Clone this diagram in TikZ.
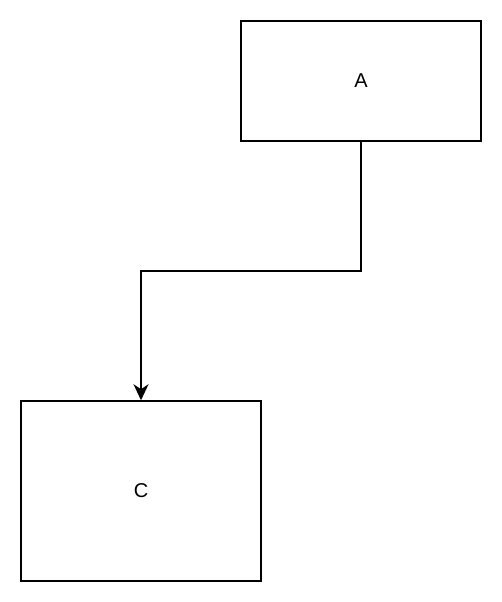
\documentclass[tikz,border=0pt]{standalone}
\usepackage{fontspec}
\setmainfont{Liberation Sans}
\usetikzlibrary{arrows.meta}
\newcommand{\lblfont}{\fontsize{20}{24}\selectfont}
\begin{document}
\begin{tikzpicture}[x=1pt,y=-1pt,
  boxnode/.style={draw=black,line width=1.5pt,fill=white,minimum width=240pt,inner sep=0pt},
  conn/.style={draw=black,line width=1.5pt,-{Stealth[length=16pt,width=15pt,inset=5pt]}}]
\useasboundingbox[fill=white] (0,0) rectangle (502,602);
\node[boxnode,minimum height=120pt] (A) at (361,81) {\lblfont A};
\node[boxnode,minimum height=180pt] (C) at (141,491) {\lblfont C};
\coordinate (m1) at (361,271);
\coordinate (m2) at (141,271);
\draw[conn] (A.south) -- (m1) -- (m2) -- (C.north);
\end{tikzpicture}
\end{document}
